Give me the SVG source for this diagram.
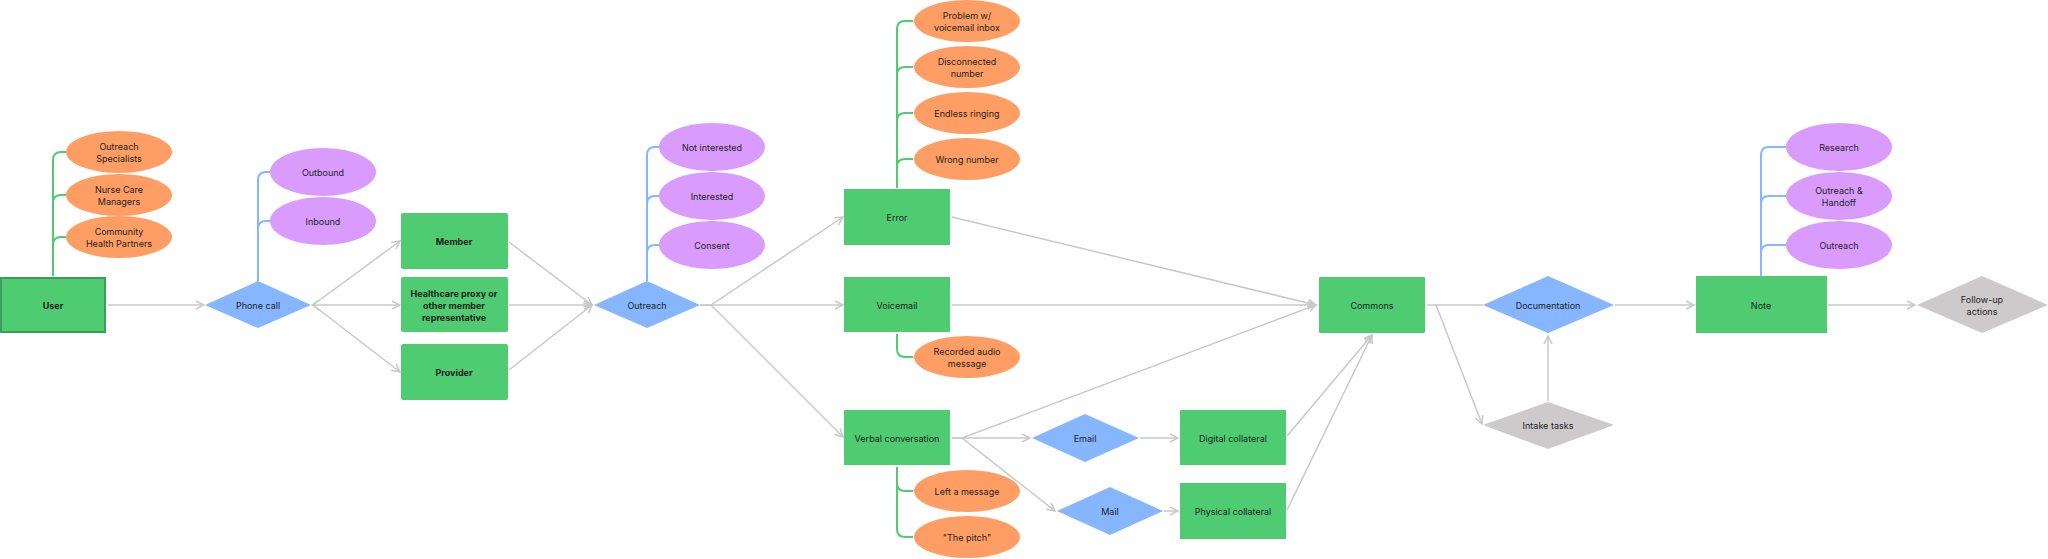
<svg xmlns="http://www.w3.org/2000/svg" width="2048" height="559" viewBox="0 0 2048 559">
<defs>
<marker id="ah" viewBox="0 0 10 10" refX="9" refY="5" markerWidth="10" markerHeight="10" markerUnits="userSpaceOnUse" orient="auto">
<path d="M1,1 L9,5 L1,9" fill="none" stroke="#c8c8c8" stroke-width="1.5"/>
</marker>
<style>
text{font-family:Inter,"Liberation Sans",sans-serif;font-size:9px;fill:#1e1e1e;text-anchor:middle;dominant-baseline:central}
.b{font-weight:bold}
.box{fill:#4fcb71}
.or{fill:#ff9e64}
.pu{fill:#d99cfd}
.dia{fill:#85b6ff}
.gr{fill:#cccacb}
.c{fill:none;stroke:#c8c8c8;stroke-width:1.5}
.ca{fill:none;stroke:#c8c8c8;stroke-width:1.5;marker-end:url(#ah)}
.bg{fill:none;stroke:#4fcb71;stroke-width:2}
.bb{fill:none;stroke:#85b6ff;stroke-width:2}
</style>
</defs>
<rect width="2048" height="559" fill="#ffffff"/>

<g id="connectors">
<path class="ca" d="M108,305 H204"/>
<path class="ca" d="M313,305 L400,241"/>
<path class="ca" d="M313,305 H400"/>
<path class="ca" d="M313,305 L400,372"/>
<path class="c" d="M319,300 L312,305 L319,310"/>
<path class="ca" d="M509,242 L592,305"/>
<path class="ca" d="M509,305 H592"/>
<path class="ca" d="M509,370 L592,305"/>
<path class="ca" d="M700,305 H711 L843,217"/>
<path class="ca" d="M700,305 H843"/>
<path class="ca" d="M711,305 L843,437"/>
<path class="ca" d="M952,217 L1316,305"/>
<path class="ca" d="M952,305 H1316"/>
<path class="ca" d="M952,438 H962 L1316,305"/>
<path class="ca" d="M952,438 H1030"/>
<path class="ca" d="M962,438 L1055,511"/>
<path class="ca" d="M1140,438 H1178"/>
<path class="ca" d="M1164,511 H1178"/>
<path class="ca" d="M1287,436 L1372,335"/>
<path class="ca" d="M1287,510 L1372,335"/>
<path class="c" d="M1427,305 H1483"/>
<path class="ca" d="M1436,305 L1482,424"/>
<path class="ca" d="M1548,401 V336"/>
<path class="ca" d="M1615,305 H1694"/>
<path class="ca" d="M1828,305 H1915"/>

<path class="bg" d="M53,276 V160 Q53,152 61,152 H66 M53,203 Q53,195 61,195 H66 M53,245 Q53,237 61,237 H66"/>
<path class="bb" d="M258,281 V180 Q258,172 266,172 H270 M258,229 Q258,221 266,221 H270"/>
<path class="bb" d="M647,281 V155 Q647,147 655,147 H659 M647,204 Q647,196 655,196 H659 M647,253 Q647,245 655,245 H659"/>
<path class="bg" d="M897,188 V29 Q897,21 905,21 H913 M897,75 Q897,67 905,67 H913 M897,121 Q897,113 905,113 H913 M897,167 Q897,159 905,159 H913"/>
<path class="bg" d="M897,334 V349 Q897,357 905,357 H913"/>
<path class="bg" d="M897,467 V529 Q897,537 905,537 H913 M897,483 Q897,491 905,491 H913"/>
<path class="bb" d="M1761,276 V155 Q1761,147 1769,147 H1786 M1761,204 Q1761,196 1769,196 H1786 M1761,253 Q1761,245 1769,245 H1786"/>
</g>

<g id="user"><rect x="1" y="278" width="104" height="54" fill="#4fcb71" stroke="#3a9e58" stroke-width="2"/><text class="b" x="53" y="305">User</text></g>
<g id="outreach-specialists"><ellipse class="or" cx="119" cy="152" rx="53" ry="21"/><text x="119" y="146">Outreach</text><text x="119" y="158">Specialists</text></g>
<g id="nurse-care-managers"><ellipse class="or" cx="119" cy="195" rx="53" ry="21"/><text x="119" y="189">Nurse Care</text><text x="119" y="201">Managers</text></g>
<g id="community-health-partners"><ellipse class="or" cx="119" cy="237" rx="53" ry="21"/><text x="119" y="231">Community</text><text x="119" y="243">Health Partners</text></g>

<g id="phone-call"><polygon class="dia" points="205,305 258,281 311,305 258,328"/><text x="258" y="305">Phone call</text></g>
<g id="outbound"><ellipse class="pu" cx="323" cy="172" rx="53" ry="24"/><text x="323" y="172">Outbound</text></g>
<g id="inbound"><ellipse class="pu" cx="323" cy="221" rx="53" ry="24"/><text x="323" y="221">Inbound</text></g>

<g id="member"><rect class="box" x="401" y="213" width="107" height="56" rx="2"/><text class="b" x="454" y="241">Member</text></g>
<g id="healthcare-proxy"><rect class="box" x="401" y="277" width="107" height="55" rx="2"/><text class="b" x="454" y="293">Healthcare proxy or</text><text class="b" x="454" y="305">other member</text><text class="b" x="454" y="317">representative</text></g>
<g id="provider"><rect class="box" x="401" y="344" width="107" height="56" rx="2"/><text class="b" x="454" y="372">Provider</text></g>

<g id="outreach"><polygon class="dia" points="594,305 647,281 700,305 647,328"/><text x="647" y="305">Outreach</text></g>
<g id="not-interested"><ellipse class="pu" cx="712" cy="147" rx="53" ry="24"/><text x="712" y="147">Not interested</text></g>
<g id="interested"><ellipse class="pu" cx="712" cy="196" rx="53" ry="24"/><text x="712" y="196">Interested</text></g>
<g id="consent"><ellipse class="pu" cx="712" cy="245" rx="53" ry="24"/><text x="712" y="245">Consent</text></g>

<g id="error"><rect class="box" x="844" y="189" width="106" height="56"/><text x="897" y="217">Error</text></g>
<g id="problem-voicemail"><ellipse class="or" cx="967" cy="21" rx="53" ry="21"/><text x="967" y="15">Problem w/</text><text x="967" y="27">voicemail inbox</text></g>
<g id="disconnected"><ellipse class="or" cx="967" cy="67" rx="53" ry="21"/><text x="967" y="61">Disconnected</text><text x="967" y="73">number</text></g>
<g id="endless-ringing"><ellipse class="or" cx="967" cy="113" rx="53" ry="21"/><text x="967" y="113">Endless ringing</text></g>
<g id="wrong-number"><ellipse class="or" cx="967" cy="159" rx="53" ry="21"/><text x="967" y="159">Wrong number</text></g>

<g id="voicemail"><rect class="box" x="844" y="277" width="106" height="55"/><text x="897" y="305">Voicemail</text></g>
<g id="recorded-audio"><ellipse class="or" cx="967" cy="357" rx="53" ry="21"/><text x="967" y="351">Recorded audio</text><text x="967" y="363">message</text></g>

<g id="verbal-conversation"><rect class="box" x="844" y="410" width="106" height="55"/><text x="897" y="438">Verbal conversation</text></g>
<g id="left-message"><ellipse class="or" cx="967" cy="491" rx="53" ry="21"/><text x="967" y="491">Left a message</text></g>
<g id="the-pitch"><ellipse class="or" cx="967" cy="537" rx="53" ry="21"/><text x="967" y="537">"The pitch"</text></g>

<g id="email"><polygon class="dia" points="1032,438 1085,414 1139,438 1085,462"/><text x="1085" y="438">Email</text></g>
<g id="mail"><polygon class="dia" points="1057,511 1110,487 1163,511 1110,535"/><text x="1110" y="511">Mail</text></g>
<g id="digital-collateral"><rect class="box" x="1180" y="410" width="106" height="55"/><text x="1233" y="438">Digital collateral</text></g>
<g id="physical-collateral"><rect class="box" x="1180" y="483" width="106" height="56"/><text x="1233" y="511">Physical collateral</text></g>

<g id="commons"><rect class="box" x="1319" y="277" width="106" height="56" rx="1"/><text x="1372" y="305">Commons</text></g>
<g id="documentation"><polygon class="dia" points="1483,305 1548,276 1614,305 1548,333"/><text x="1548" y="305">Documentation</text></g>
<g id="intake-tasks"><polygon class="gr" points="1483,425 1548,402 1614,425 1548,449"/><text x="1548" y="425">Intake tasks</text></g>

<g id="note"><rect class="box" x="1696" y="276" width="131" height="57"/><text x="1761" y="305">Note</text></g>
<g id="research"><ellipse class="pu" cx="1839" cy="147" rx="53" ry="24"/><text x="1839" y="147">Research</text></g>
<g id="outreach-handoff"><ellipse class="pu" cx="1839" cy="196" rx="53" ry="24"/><text x="1839" y="190">Outreach &amp;</text><text x="1839" y="202">Handoff</text></g>
<g id="outreach-note"><ellipse class="pu" cx="1839" cy="245" rx="53" ry="24"/><text x="1839" y="245">Outreach</text></g>

<g id="follow-up"><polygon class="gr" points="1917,305 1982,276 2048,305 1982,333"/><text x="1982" y="299">Follow-up</text><text x="1982" y="311">actions</text></g>
</svg>
